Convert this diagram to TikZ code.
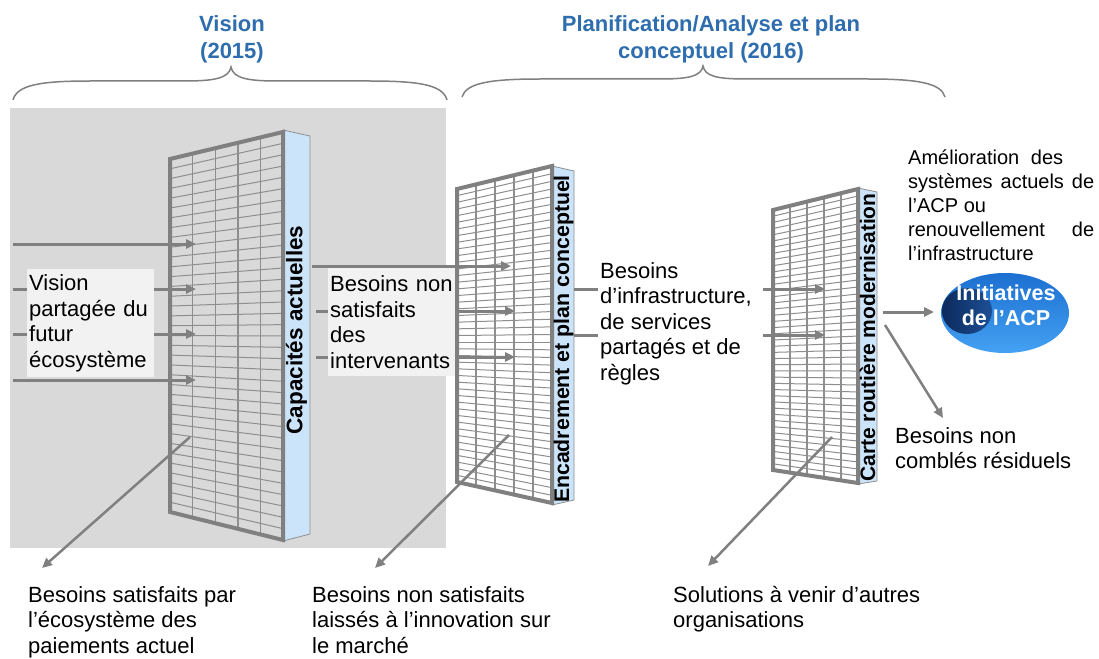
\documentclass[tikz,border=0pt]{standalone}
\usepackage{fontspec}
\setmainfont{Liberation Sans}
\usetikzlibrary{arrows.meta}
\definecolor{bggray}{HTML}{D9D9D9}
\definecolor{framegray}{HTML}{808080}
\definecolor{linegray}{HTML}{8E8E8E}
\definecolor{stripblue}{HTML}{CCE4FA}
\definecolor{headblue}{HTML}{2F6EAE}
\definecolor{boxfill}{HTML}{F2F2F2}
\definecolor{ellA}{HTML}{1C6FD0}
\definecolor{ellB}{HTML}{45A2F3}
\definecolor{navyA}{HTML}{0C2A5C}
\definecolor{navyB}{HTML}{1D4F96}
\newcommand{\fa}{\fontsize{22}{25.5}\selectfont}
\newcommand{\gridpanel}[8]{%
  \fill[#8] (#1,#2) -- (#4,#5) -- (#4,#6) -- (#1,#3) -- cycle;
  \foreach \k in {1,...,#7}{%
    \pgfmathsetmacro\ta{#2+(#3-#2)*\k/(#7+1)}%
    \pgfmathsetmacro\tb{#5+(#6-#5)*\k/(#7+1)}%
    \draw[gridh] (#1,\ta) -- (#4,\tb);
  }%
  \foreach \k in {1,2,3,4}{%
    \pgfmathsetmacro\xa{#1+(#4-#1)*\k/5}%
    \pgfmathsetmacro\ya{#2+(#5-#2)*\k/5}%
    \pgfmathsetmacro\yb{#3+(#6-#3)*\k/5}%
    \draw[gridv] (\xa,\ya) -- (\xa,\yb);
  }%
  \draw[frame] (#1,#2) -- (#4,#5) -- (#4,#6) -- (#1,#3) -- cycle;
}
\tikzset{
  arr/.style={draw=framegray, line width=3pt, -{Triangle[length=10pt,width=9pt]}},
  darr/.style={draw=framegray, line width=2.5pt, -{Triangle[length=10pt,width=9pt]}},
  stub/.style={draw=framegray, line width=3pt},
  gridh/.style={draw=linegray, line width=1pt},
  gridv/.style={draw=linegray, line width=1.4pt},
  frame/.style={draw=framegray, line width=4pt, line join=miter},
  stripbox/.style={fill=stripblue, draw=linegray, line width=0.8pt},
  striptext/.style={rotate=90, inner sep=0pt},
  txt/.style={inner sep=0pt, anchor=north west, align=left, font=\fa},
  tbox/.style={fill=boxfill, anchor=north west, text width=123pt, inner xsep=2pt, inner ysep=4pt, align=left, font=\fa, minimum height=108pt},
  heading/.style={inner sep=0pt, anchor=north, align=center, text=headblue, font=\bfseries\fontsize{22}{27}\selectfont},
  brace/.style={draw=framegray, line width=1.5pt},
}
\begin{document}
\begin{tikzpicture}[x=1pt,y=-1pt]
\useasboundingbox (0,0) rectangle (1099,658);
\fill[white] (0,0) rectangle (1099,658);
% grey background of the Vision stage
\fill[bggray] (10,108) rectangle (446,548);

% headings and braces
\node[heading] (h1) at (232,15) {Vision\\(2015)};
\node[heading] (h2) at (711,15) {Planification/Analyse et plan\\conceptuel (2016)};
\draw[brace] (13,100) .. controls (17,85) and (40,81) .. (90,81) -- (185,81) .. controls (215,81) and (229,78) .. (231,67) .. controls (233,78) and (247,81) .. (277,81) -- (370,81) .. controls (420,81) and (443,85) .. (447,100);
\draw[brace] (462,97) .. controls (466,83) and (490,79) .. (540,79) -- (660,79) .. controls (690,79) and (701,76) .. (703,66) .. controls (705,76) and (716,79) .. (746,79) -- (868,79) .. controls (918,79) and (941,83) .. (945,97);

% panel 1
\draw[stripbox] (283,130) -- (310,136) -- (310,534) -- (283,541) -- cycle;
\gridpanel{170}{159}{512}{283}{132}{540}{35}{bggray}
\node[striptext, font=\bfseries\fontsize{22.5}{22.5}\selectfont] (s1) at (296.5,330) {Capacités actuelles};

% panel 2
\draw[stripbox] (552,166) -- (574,171) -- (574,500) -- (552,505) -- cycle;
\gridpanel{457}{189}{482}{552}{166}{503}{43}{white}
\node[striptext, font=\bfseries\fontsize{21.3}{21.3}\selectfont] (s2) at (563.5,339) {Encadrement et plan conceptuel};

% panel 3
\draw[stripbox] (858,188) -- (877,192) -- (877,481) -- (858,484) -- cycle;
\gridpanel{773}{210}{470}{858}{189}{483}{41}{white}
\node[striptext, font=\bfseries\fontsize{21}{21}\selectfont] (s3) at (867.5,337.5) {Carte routière modernisation};

% coordinates for connectors
\coordinate (a1s) at (13,244);  \coordinate (a1e) at (196,244);
\coordinate (a2s) at (13,289);  \coordinate (a2e) at (196,289);
\coordinate (a3s) at (13,334);  \coordinate (a3e) at (196,334);
\coordinate (a4s) at (13,380);  \coordinate (a4e) at (196,380);
\coordinate (b1s) at (312,266); \coordinate (b1e) at (511,266);
\coordinate (b2s) at (316,311); \coordinate (b2e) at (515,311);
\coordinate (b3s) at (316,357); \coordinate (b3e) at (515,357);
\coordinate (c1s) at (574,289); \coordinate (c1e) at (598,289);
\coordinate (c2s) at (574,335); \coordinate (c2e) at (598,335);
\coordinate (d1s) at (763,289); \coordinate (d1e) at (825,289);
\coordinate (d2s) at (763,335); \coordinate (d2e) at (825,335);
\coordinate (e1s) at (883,312); \coordinate (e1e) at (934,312);
\coordinate (e2s) at (885,325); \coordinate (e2e) at (943,418);
\coordinate (g1s) at (190,437); \coordinate (g1e) at (42,568);
\coordinate (g2s) at (509,435); \coordinate (g2e) at (375,568);
\coordinate (g3s) at (832,437); \coordinate (g3e) at (708,566);

\draw[arr] (a1s) -- (a1e);
\draw[arr] (a2s) -- (a2e);
\draw[arr] (a3s) -- (a3e);
\draw[arr] (a4s) -- (a4e);
\draw[arr] (b2s) -- (b2e);
\draw[arr] (b3s) -- (b3e);
\draw[stub] (c1s) -- (c1e);
\draw[stub] (c2s) -- (c2e);
\draw[arr] (d1s) -- (d1e);
\draw[arr] (d2s) -- (d2e);
\draw[arr] (e1s) -- (e1e);
\draw[darr] (e2s) -- (e2e);
\draw[darr] (g1s) -- (g1e);
\draw[darr] (g2s) -- (g2e);
\draw[darr] (g3s) -- (g3e);

% text boxes
\node[tbox] (vision) at (27,269) {Vision\\partagée du\\futur\\écosystème};
\node[tbox] (besoins) at (328,268) {Besoins non\\satisfaits\\des\\intervenants};
\draw[arr] (b1s) -- (b1e);

% free texts
\node[txt] (infra) at (600,262) {Besoins\\d’infrastructure,\\de services\\partagés et de\\règles};
\node[txt] (residuels) at (895,427) {Besoins non\\comblés résiduels};
\node[txt] (bt1) at (28,586) {Besoins satisfaits par\\l’écosystème des\\paiements actuel};
\node[txt] (bt2) at (312,586) {Besoins non satisfaits\\laissés à l’innovation sur\\le marché};
\node[txt] (bt3) at (673,586) {Solutions à venir d’autres\\organisations};
\node[inner sep=0pt, anchor=north west, align=left, font=\fontsize{20}{24}\selectfont] (amelio) at (908,149.5) {\makebox[155pt][s]{Amélioration des}\\\makebox[186pt][s]{systèmes actuels de}\\l’ACP ou\\\makebox[186pt][s]{renouvellement de}\\l’infrastructure};

% ellipse
\begin{scope}
  \clip (1005,313) ellipse [x radius=64pt, y radius=40pt];
  \shade[top color=ellA, bottom color=ellB] (940,272) rectangle (1070,354);
  \shade[left color=navyA, right color=navyB] (967,311) ellipse [x radius=25pt, y radius=23pt];
\end{scope}
\node[inner sep=0pt, align=center, text=white, font=\bfseries\fontsize{21.5}{25}\selectfont] (initiatives) at (1006,305) {Initiatives\\de l’ACP};
\end{tikzpicture}
\end{document}
